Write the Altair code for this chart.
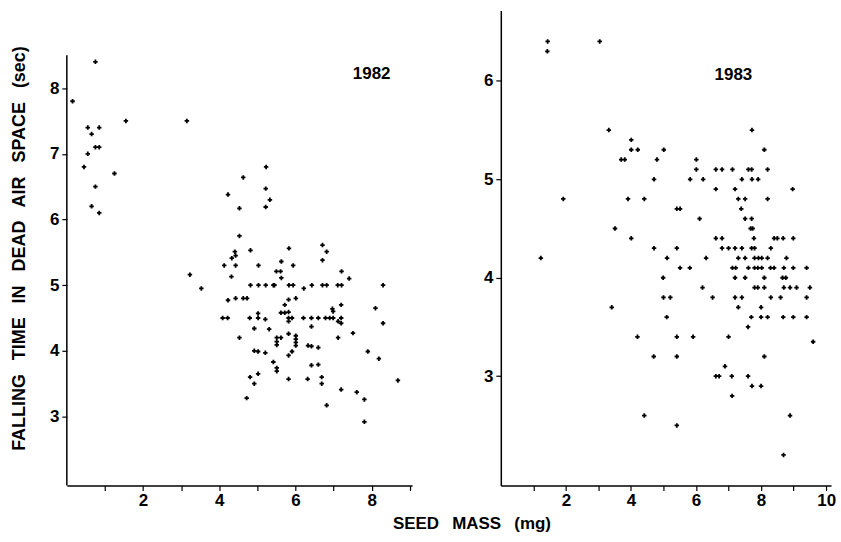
import altair as alt
import pandas as pd

# ---- 1982 data (seed mass mg, falling time s) ----
x1982 = [0.15, 0.75, 0.55, 0.85, 0.65, 0.75, 0.85, 0.55, 0.45, 1.25, 0.75, 0.65, 0.85, 1.55, 3.15,
         5.23, 4.63, 4.23, 5.22, 5.33, 5.22, 4.53, 4.53, 4.41, 4.43, 4.33, 4.82, 5.83, 6.71, 6.82, 6.71,
         4.13, 4.43, 5.03, 5.63, 5.94, 5.50, 5.61, 5.63, 4.32, 3.23, 7.21, 7.41, 3.53,
         4.82, 5.03, 5.22, 5.42, 5.45, 5.83, 5.94, 6.43, 6.71, 6.82, 7.11, 7.21, 8.30, 6.22,
         4.23, 4.43, 4.63, 4.73, 5.72, 5.82, 6.01, 7.20, 8.10, 6.97, 6.99,
         4.09, 4.22, 4.80, 5.02, 5.02, 5.21, 5.62, 5.72, 5.82, 5.82, 5.82, 5.91, 6.21, 6.42, 6.60,
         6.79, 6.90, 6.99, 7.12, 7.20, 7.20, 8.30,
         4.92, 5.31, 6.42, 4.53, 5.51, 5.51, 5.51, 5.62, 5.82, 6.01, 6.01, 6.01, 6.01, 6.33, 6.42,
         6.60, 7.12, 7.51,
         4.92, 5.02, 5.21, 5.91, 5.82, 7.90, 8.19, 5.42, 5.51, 5.51, 6.42, 6.60, 4.81, 5.02, 4.92,
         5.82, 6.32, 6.69, 6.69, 8.69, 4.72, 7.20, 7.61, 7.81, 6.82, 7.81]
y1982 = [7.80, 8.40, 7.40, 7.40, 7.30, 7.10, 7.10, 7.00, 6.80, 6.70, 6.50, 6.20, 6.10, 7.50, 7.50,
         6.80, 6.64, 6.38, 6.47, 6.30, 6.19, 6.17, 5.75, 5.51, 5.45, 5.41, 5.53, 5.56, 5.61, 5.51, 5.38,
         5.30, 5.30, 5.30, 5.36, 5.30, 5.21, 5.21, 5.11, 5.13, 5.16, 5.21, 5.10, 4.95,
         5.00, 5.00, 5.00, 5.00, 5.00, 5.00, 5.00, 5.00, 5.00, 5.00, 5.00, 5.00, 5.00, 4.95,
         4.77, 4.80, 4.80, 4.80, 4.70, 4.78, 4.80, 4.70, 4.65, 4.64, 4.60,
         4.50, 4.50, 4.50, 4.57, 4.50, 4.48, 4.58, 4.58, 4.59, 4.50, 4.45, 4.50, 4.50, 4.50, 4.50,
         4.50, 4.50, 4.50, 4.45, 4.50, 4.42, 4.42,
         4.34, 4.33, 4.37, 4.20, 4.20, 4.14, 4.09, 4.20, 4.26, 4.23, 4.18, 4.13, 4.08, 4.08, 4.07,
         4.05, 4.20, 4.27,
         4.00, 3.99, 3.97, 3.99, 3.93, 3.99, 3.88, 3.83, 3.74, 3.69, 3.78, 3.79, 3.60, 3.65, 3.50,
         3.57, 3.57, 3.60, 3.50, 3.55, 3.28, 3.41, 3.37, 3.26, 3.17, 2.92]

# ---- 1983 data ----
x1983 = [1.44, 1.43, 3.04, 3.32, 4.01, 4.01, 4.21, 5.01, 3.70, 3.81, 4.80, 6.01, 6.01, 6.61, 4.71,
         5.82, 6.22, 6.61, 1.92, 3.91, 4.41, 5.41, 5.51, 6.11, 3.51, 4.01, 6.61, 4.71, 5.41, 1.23,
         5.11, 6.31, 5.51, 5.81, 4.99,
         7.72, 8.10, 6.80, 7.12, 7.61, 7.71, 8.20, 7.41, 7.72, 7.91, 7.20, 8.97, 7.30, 7.51, 8.20,
         7.39, 7.51, 7.71, 7.68, 7.74, 6.80, 7.78, 8.40, 8.50, 8.68, 8.99, 6.80, 7.00, 7.20, 7.41,
         7.71, 7.80, 8.30, 7.30, 7.51, 7.80, 7.92, 8.02, 8.20, 8.78, 7.12, 7.22, 7.61, 7.80, 7.90,
         8.02, 8.29, 8.40, 8.70, 8.99, 9.40, 7.20, 7.51, 8.10, 8.66, 8.76, 6.20, 7.80, 7.90, 8.10,
         8.70, 8.89, 9.09, 9.50, 5.00, 5.21, 6.51, 7.20, 7.41, 8.30, 8.60, 9.40, 3.41, 7.30, 8.00,
         5.10, 7.70, 8.00, 8.20, 8.68, 8.99, 9.40, 7.60, 4.20, 5.41, 5.91, 7.00, 9.60, 4.70, 5.41,
         8.10, 6.89, 6.61, 6.71, 7.10, 7.60, 7.72, 8.00, 7.11, 4.41, 8.89, 5.41, 8.69]
y1983 = [6.40, 6.30, 6.40, 5.50, 5.40, 5.30, 5.30, 5.30, 5.20, 5.20, 5.20, 5.20, 5.10, 5.10, 5.00,
         5.00, 5.00, 4.90, 4.80, 4.80, 4.80, 4.70, 4.70, 4.60, 4.50, 4.40, 4.40, 4.30, 4.30, 4.20,
         4.20, 4.20, 4.10, 4.10, 4.00,
         5.50, 5.30, 5.10, 5.10, 5.10, 5.10, 5.10, 5.00, 5.00, 5.00, 4.90, 4.90, 4.80, 4.80, 4.80,
         4.70, 4.60, 4.60, 4.50, 4.50, 4.40, 4.40, 4.40, 4.40, 4.40, 4.40, 4.30, 4.30, 4.30, 4.30,
         4.30, 4.30, 4.30, 4.20, 4.20, 4.20, 4.20, 4.20, 4.20, 4.20, 4.10, 4.10, 4.10, 4.10, 4.10,
         4.10, 4.10, 4.10, 4.10, 4.10, 4.10, 4.00, 4.00, 4.00, 4.00, 4.00, 3.90, 3.90, 3.90, 3.90,
         3.90, 3.90, 3.90, 3.90, 3.80, 3.80, 3.80, 3.80, 3.80, 3.80, 3.80, 3.80, 3.70, 3.70, 3.70,
         3.60, 3.60, 3.60, 3.60, 3.60, 3.60, 3.60, 3.50, 3.40, 3.40, 3.40, 3.40, 3.35, 3.20, 3.20,
         3.20, 3.10, 3.00, 3.00, 3.00, 3.00, 2.90, 2.90, 2.80, 2.60, 2.60, 2.50, 2.20]

FONT = "Liberation Sans"
GAP = "\u2002 "
Y_TITLE = GAP.join(["FALLING", "TIME", "IN", "DEAD", "AIR", "SPACE", "(sec)"])
X_TITLE = GAP.join(["SEED", "MASS", "(mg)"])

df82 = pd.DataFrame({"mass": x1982, "time": y1982})
df83 = pd.DataFrame({"mass": x1983, "time": y1983})


def panel(df, xdom, ydom, xticks, yticks, label, lx, ly, w, h, axis_rule=None, ytitle=None):
    xs = alt.Scale(domain=xdom, nice=False, zero=False)
    ys = alt.Scale(domain=ydom, nice=False, zero=False)
    xax = alt.Axis(values=xticks, title=None,
                   labelExpr="datum.value % 2 == 0 ? datum.label : ''",
                   labelOverlap=False, format="d", grid=False, tickSize=5, labelPadding=2)
    yax_kw = dict(values=yticks, grid=False, tickSize=5, format="d", labelOverlap=False,
                  labelPadding=3, domain=axis_rule is None)
    if ytitle is not None:
        yax_kw.update(title=ytitle, titlePadding=21)
    else:
        yax_kw.update(title=None)
    yax = alt.Axis(**yax_kw)
    X = alt.X("mass:Q", scale=xs, axis=xax)
    Y = alt.Y("time:Q", scale=ys, axis=yax)
    pts = alt.Chart(df).mark_point(shape="cross", filled=True, size=20,
                                   color="black", opacity=1).encode(x=X, y=Y)
    lab = alt.Chart(pd.DataFrame({"mass": [lx], "time": [ly], "t": [label]})).mark_text(
        font=FONT, fontWeight="bold", fontSize=17, color="black").encode(x=X, y=Y, text="t:N")
    layers = [pts, lab]
    if axis_rule is not None:
        rule = alt.Chart(pd.DataFrame({"mass": [0], "time": [axis_rule[0]], "hi": [axis_rule[1]]})).mark_rule(
            color="black", strokeWidth=1.5).encode(x=X, y=Y, y2="hi:Q")
        layers.append(rule)
    return alt.layer(*layers).properties(width=w, height=h)


left = panel(df82, [0, 9.06], [1.95, 9.18], [1, 2, 3, 4, 5, 6, 7, 8, 9], [3, 4, 5, 6, 7, 8],
             "1982", 8.0, 8.21, 346, 476, axis_rule=(1.95, 8.5), ytitle=Y_TITLE)
right = panel(df83, [0, 10.15], [1.89, 6.713], [1, 2, 3, 4, 5, 6, 7, 8, 9, 10], [3, 4, 5, 6],
              "1983", 7.15, 6.06, 331, 476)

chart = alt.hconcat(left, right, spacing=89, bounds="flush").properties(
    title=alt.TitleParams(X_TITLE, orient="bottom", anchor="middle",
                          font=FONT, fontSize=17, fontWeight="bold", color="black", offset=8, dx=49),
    padding={"left": 10, "top": 10, "right": 5, "bottom": 5},
    background="white",
).configure_axis(
    labelFont=FONT, labelFontSize=17, labelFontWeight="bold", labelColor="black",
    domainColor="black", domainWidth=1.5, tickColor="black", tickWidth=1.2,
    titleFont=FONT, titleFontSize=18, titleFontWeight="bold", titleColor="black",
).configure_view(stroke=None)

chart.save("out.html", embed_options={"renderer": "svg", "actions": False})
